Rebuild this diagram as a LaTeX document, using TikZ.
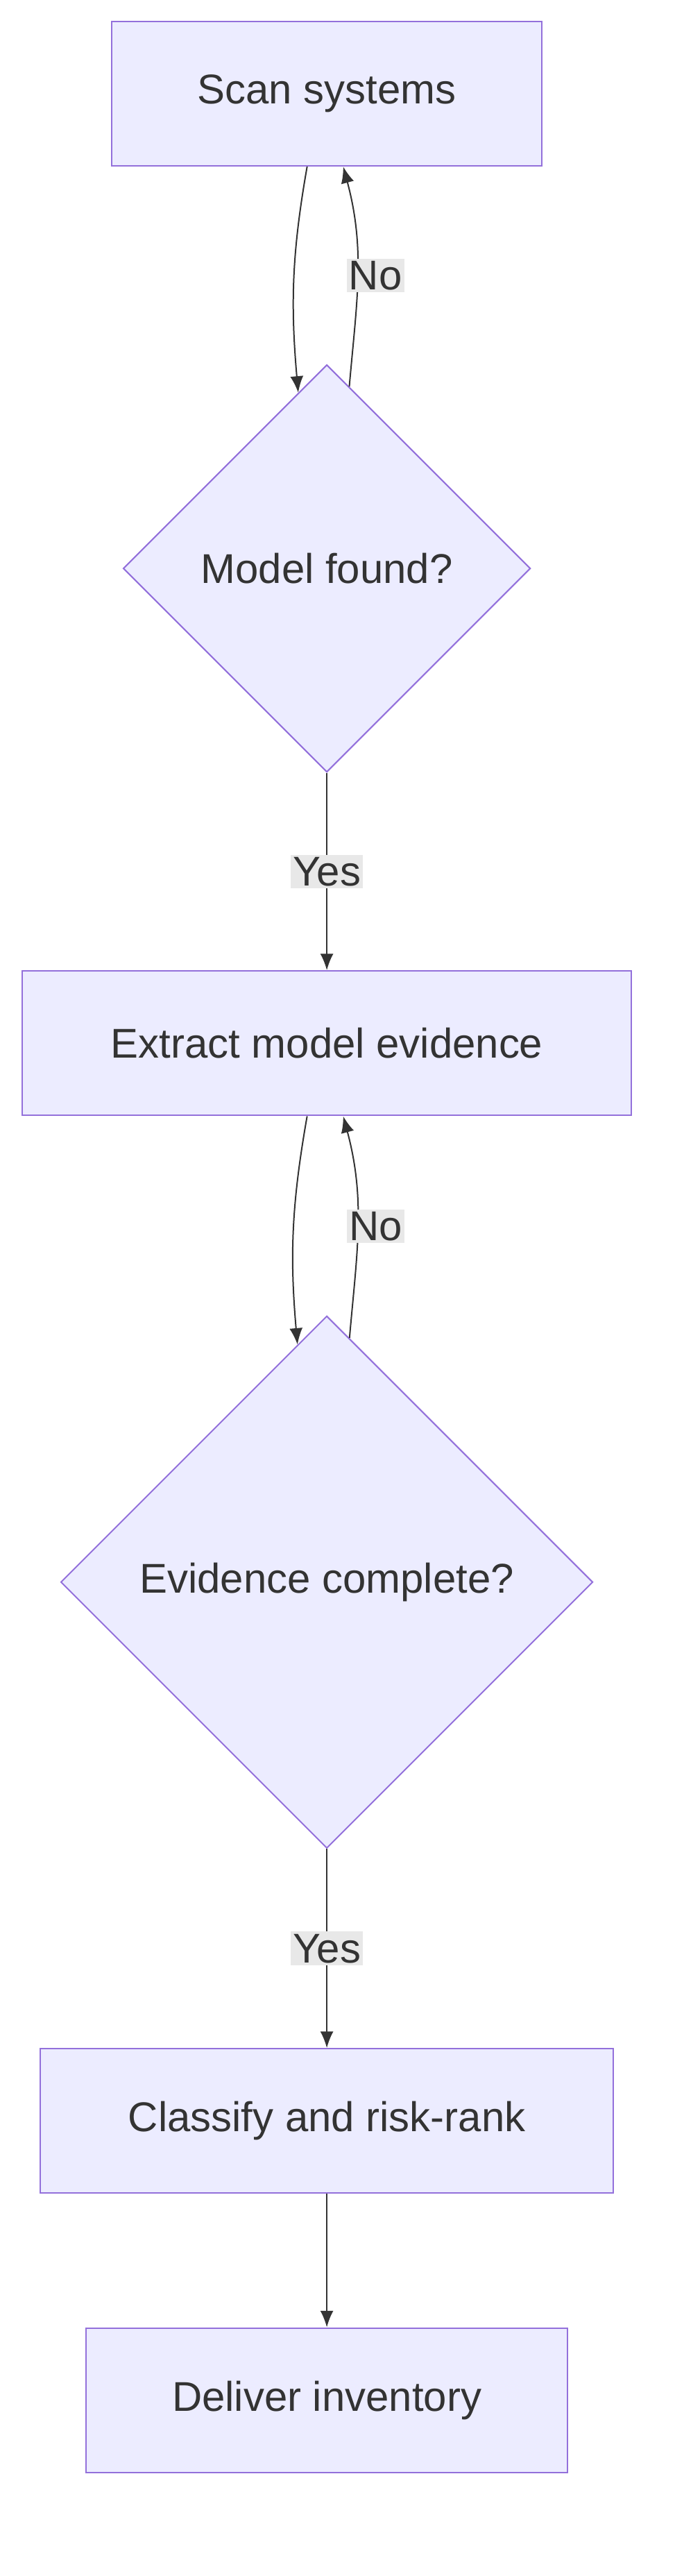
\documentclass[tikz,border=0pt]{standalone}
\usepackage{fontspec}
\setmainfont{Liberation Sans}
\usetikzlibrary{shapes.geometric,calc,arrows.meta}
\definecolor{boxfill}{HTML}{ECECFF}
\definecolor{boxline}{HTML}{9370DB}
\definecolor{ink}{HTML}{333333}
\definecolor{lblfill}{HTML}{E8E8E8}
\begin{document}
\begin{tikzpicture}[
  x=0.05cm, y=-0.05cm,
  every node/.style={font=\fontsize{36}{42}\selectfont, text=ink},
  stepbox/.style={rectangle, draw=boxline, fill=boxfill, line width=1.2pt, minimum height=4.4cm},
  askbox/.style={diamond, draw=boxline, fill=boxfill, line width=1.2pt, inner sep=0pt},
  flow/.style={draw=ink, line width=1.2pt, -{Latex[length=5mm,width=4mm]}},
  lbl/.style={fill=lblfill, inner sep=2pt}
]
  \useasboundingbox (0,0) rectangle (410.6,1568);

  \node (scan) [stepbox, minimum width=13.1cm] at (199,57) {Scan systems};
  \node (found) [askbox, minimum width=12.4cm, minimum height=12.4cm] at (199,346) {Model found?};
  \node (extract) [stepbox, minimum width=18.55cm] at (199,635) {Extract model evidence};
  \node (complete) [askbox, minimum width=16.2cm, minimum height=16.2cm] at (199,963) {Evidence complete?};
  \node (classify) [stepbox, minimum width=17.45cm] at (199,1291) {Classify and risk-rank};
  \node (deliver) [stepbox, minimum width=14.65cm] at (199,1461) {Deliver inventory};

  % loops back on missing results
  \draw[flow] ([xshift=-0.6cm]scan.south) to[out=-100,in=95] ($(found.north)!0.14!(found.west)$);
  \draw[flow] ($(found.north)!0.11!(found.east)$) to[out=85,in=-75]
    node[lbl, pos=0.5, right=-0.35cm] {No} ([xshift=0.5cm]scan.south);
  \draw[flow] ([xshift=-0.6cm]extract.south) to[out=-100,in=95] ($(complete.north)!0.11!(complete.west)$);
  \draw[flow] ($(complete.north)!0.085!(complete.east)$) to[out=85,in=-75]
    node[lbl, pos=0.5, right=-0.35cm] {No} ([xshift=0.5cm]extract.south);

  % forward path
  \draw[flow] (found) -- node[lbl] {Yes} (extract);
  \draw[flow] (complete) -- node[lbl] {Yes} (classify);
  \draw[flow] (classify) -- (deliver);
\end{tikzpicture}
\end{document}
